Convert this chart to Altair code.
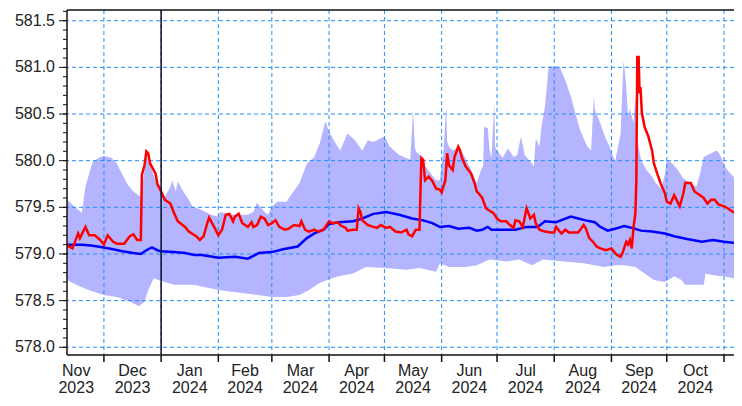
import altair as alt
import pandas as pd

# ---------------- data ----------------
red_dates = [
    "2023-11-11", "2023-11-12", "2023-11-14", "2023-11-17", "2023-11-18", "2023-11-21", "2023-11-23",
    "2023-11-26", "2023-11-29", "2023-12-01", "2023-12-03", "2023-12-06", "2023-12-08", "2023-12-12",
    "2023-12-15", "2023-12-17", "2023-12-19", "2023-12-21", "2023-12-21T14:00", "2023-12-23",
    "2023-12-24", "2023-12-25", "2023-12-26", "2023-12-29", "2023-12-30", "2024-01-01", "2024-01-03",
    "2024-01-06", "2024-01-08", "2024-01-10", "2024-01-14", "2024-01-16", "2024-01-20", "2024-01-22",
    "2024-01-24", "2024-01-26", "2024-01-27", "2024-01-30", "2024-02-01", "2024-02-03", "2024-02-05",
    "2024-02-07", "2024-02-09", "2024-02-10", "2024-02-12", "2024-02-14", "2024-02-17", "2024-02-19",
    "2024-02-20", "2024-02-22", "2024-02-24", "2024-02-26", "2024-02-28", "2024-03-01", "2024-03-03",
    "2024-03-05", "2024-03-08", "2024-03-10", "2024-03-13", "2024-03-16", "2024-03-17", "2024-03-19",
    "2024-03-21", "2024-03-24", "2024-03-26", "2024-03-29", "2024-04-01", "2024-04-03", "2024-04-06",
    "2024-04-07", "2024-04-10", "2024-04-11", "2024-04-14", "2024-04-16", "2024-04-17", "2024-04-18",
    "2024-04-19", "2024-04-22", "2024-04-25", "2024-04-27", "2024-04-29", "2024-05-02", "2024-05-04",
    "2024-05-07", "2024-05-10", "2024-05-13", "2024-05-14", "2024-05-16", "2024-05-18", "2024-05-20",
    "2024-05-21", "2024-05-22", "2024-05-23", "2024-05-25", "2024-05-27", "2024-05-29", "2024-05-31",
    "2024-06-01", "2024-06-03", "2024-06-04", "2024-06-05", "2024-06-07", "2024-06-08", "2024-06-10",
    "2024-06-11", "2024-06-12", "2024-06-14", "2024-06-17", "2024-06-19", "2024-06-20", "2024-06-21",
    "2024-06-23", "2024-06-25", "2024-06-28", "2024-06-29", "2024-07-01", "2024-07-03", "2024-07-06",
    "2024-07-08", "2024-07-10", "2024-07-11", "2024-07-13", "2024-07-15", "2024-07-17", "2024-07-18",
    "2024-07-19", "2024-07-21", "2024-07-22", "2024-07-24", "2024-07-27", "2024-07-30", "2024-08-01",
    "2024-08-02", "2024-08-04", "2024-08-05", "2024-08-07", "2024-08-09", "2024-08-12", "2024-08-14",
    "2024-08-17", "2024-08-18", "2024-08-20", "2024-08-22", "2024-08-24", "2024-08-26", "2024-08-29",
    "2024-09-01", "2024-09-03", "2024-09-04", "2024-09-06", "2024-09-07", "2024-09-09", "2024-09-10",
    "2024-09-11", "2024-09-12", "2024-09-13", "2024-09-14", "2024-09-14T12:00", "2024-09-15",
    "2024-09-15T18:00", "2024-09-16T06:00", "2024-09-16T18:00", "2024-09-17T12:00", "2024-09-19",
    "2024-09-21", "2024-09-23", "2024-09-24", "2024-09-26", "2024-09-28", "2024-09-30", "2024-10-01",
    "2024-10-03", "2024-10-05", "2024-10-06", "2024-10-08", "2024-10-10", "2024-10-11", "2024-10-14",
    "2024-10-16", "2024-10-19", "2024-10-21", "2024-10-23", "2024-10-25", "2024-10-27", "2024-10-29",
    "2024-11-01", "2024-11-03", "2024-11-06", "2024-11-08", "2024-11-10T18:00",
]
red_vals = [
    579.11, 579.08, 579.06, 579.22, 579.17, 579.29, 579.20,
    579.20, 579.15, 579.10, 579.20, 579.13, 579.11, 579.11,
    579.19, 579.21, 579.15, 579.15, 579.85, 579.95,
    580.10, 580.08, 579.97, 579.86, 579.75, 579.67, 579.58,
    579.54, 579.44, 579.35, 579.29, 579.24, 579.19, 579.15,
    579.19, 579.33, 579.39, 579.28, 579.20, 579.26, 579.42,
    579.43, 579.35, 579.40, 579.43, 579.33, 579.29, 579.34,
    579.29, 579.31, 579.40, 579.38, 579.31, 579.33, 579.36,
    579.29, 579.26, 579.27, 579.31, 579.30, 579.35, 579.26,
    579.24, 579.26, 579.24, 579.26, 579.35, 579.33, 579.34,
    579.31, 579.28, 579.25, 579.26, 579.26, 579.49, 579.45,
    579.36, 579.31, 579.29, 579.28, 579.31, 579.28, 579.29,
    579.24, 579.23, 579.26, 579.21, 579.19, 579.26, 579.26,
    580.03, 580.01, 579.79, 579.83, 579.78, 579.70, 579.69,
    579.66, 579.79, 580.08, 579.95, 579.90, 580.04, 580.15,
    580.11, 580.03, 579.94, 579.86, 579.75, 579.67, 579.65,
    579.60, 579.49, 579.45, 579.44, 579.38, 579.35, 579.35,
    579.31, 579.28, 579.36, 579.35, 579.29, 579.49, 579.44,
    579.38, 579.42, 579.33, 579.26, 579.24, 579.23, 579.23,
    579.29, 579.24, 579.22, 579.26, 579.23, 579.23, 579.23,
    579.31, 579.28, 579.17, 579.13, 579.08, 579.06, 579.04,
    579.06, 579.01, 578.99, 578.97, 579.01, 579.13, 579.10,
    579.15, 579.06, 579.29, 579.44, 579.79, 581.11,
    581.11, 580.72, 580.79, 580.51, 580.36,
    580.26, 580.11, 579.97, 579.85, 579.74, 579.65, 579.56,
    579.54, 579.63, 579.59, 579.51, 579.65, 579.76, 579.76,
    579.67, 579.63, 579.60, 579.54, 579.58, 579.58, 579.53,
    579.51, 579.49, 579.45, 579.44, 579.44,
]

blue_dates = [
    "2023-11-11", "2023-11-19", "2023-11-24", "2023-12-01", "2023-12-06", "2023-12-11", "2023-12-17",
    "2023-12-21", "2023-12-24", "2023-12-27", "2023-12-30", "2024-01-01", "2024-01-08", "2024-01-14",
    "2024-01-19", "2024-01-23", "2024-02-01", "2024-02-10", "2024-02-17", "2024-02-23", "2024-03-01",
    "2024-03-07", "2024-03-15", "2024-03-20", "2024-03-24", "2024-03-29", "2024-04-01", "2024-04-06",
    "2024-04-14", "2024-04-19", "2024-04-25", "2024-05-02", "2024-05-09", "2024-05-16", "2024-05-22",
    "2024-05-27", "2024-05-31", "2024-06-05", "2024-06-10", "2024-06-16", "2024-06-20", "2024-06-23",
    "2024-06-26", "2024-06-28", "2024-07-04", "2024-07-11", "2024-07-17", "2024-07-23", "2024-07-27",
    "2024-08-02", "2024-08-06", "2024-08-10", "2024-08-14", "2024-08-18", "2024-08-23", "2024-08-26",
    "2024-08-30", "2024-09-03", "2024-09-08", "2024-09-12", "2024-09-17", "2024-09-23", "2024-09-30",
    "2024-10-05", "2024-10-12", "2024-10-20", "2024-10-26", "2024-11-01", "2024-11-06", "2024-11-10T18:00",
]
blue_vals = [
    579.10, 579.10, 579.09, 579.07, 579.05, 579.03, 579.01,
    579.00, 579.04, 579.07, 579.04, 579.03, 579.02, 579.01,
    578.99, 578.99, 578.96, 578.97, 578.95, 579.01, 579.02,
    579.05, 579.08, 579.17, 579.22, 579.26, 579.32, 579.34,
    579.35, 579.38, 579.43, 579.45, 579.42, 579.38, 579.36,
    579.33, 579.29, 579.30, 579.27, 579.28, 579.25, 579.26,
    579.29, 579.26, 579.26, 579.26, 579.29, 579.29, 579.35,
    579.34, 579.37, 579.40, 579.38, 579.36, 579.34, 579.29,
    579.25, 579.27, 579.30, 579.28, 579.25, 579.24, 579.22,
    579.19, 579.16, 579.13, 579.15, 579.13, 579.12, 579.11,
]

hi_dates = [
    "2023-11-11", "2023-11-15", "2023-11-19", "2023-11-21", "2023-11-23", "2023-11-25", "2023-11-29",
    "2023-12-01", "2023-12-05", "2023-12-08", "2023-12-11", "2023-12-14", "2023-12-17", "2023-12-21",
    "2023-12-23", "2023-12-24", "2023-12-26", "2023-12-29", "2024-01-01", "2024-01-03", "2024-01-06",
    "2024-01-07", "2024-01-09", "2024-01-10", "2024-01-13", "2024-01-16", "2024-01-18", "2024-01-23",
    "2024-01-28", "2024-02-01", "2024-02-02", "2024-02-08", "2024-02-17", "2024-02-20", "2024-02-22",
    "2024-02-26", "2024-02-28", "2024-03-01", "2024-03-04", "2024-03-09", "2024-03-12", "2024-03-16",
    "2024-03-20", "2024-03-24", "2024-03-27", "2024-03-30", "2024-04-01", "2024-04-05", "2024-04-07",
    "2024-04-11", "2024-04-15", "2024-04-19", "2024-04-22", "2024-04-25", "2024-05-01", "2024-05-04",
    "2024-05-09", "2024-05-15", "2024-05-16T12:00", "2024-05-17T12:00", "2024-05-18", "2024-05-21",
    "2024-05-23", "2024-05-29", "2024-05-31", "2024-06-02", "2024-06-03T12:00", "2024-06-04",
    "2024-06-05", "2024-06-07", "2024-06-10", "2024-06-13", "2024-06-17", "2024-06-20", "2024-06-22",
    "2024-06-23T12:00", "2024-06-24", "2024-06-26", "2024-06-27", "2024-06-28", "2024-06-29T12:00",
    "2024-06-30", "2024-07-01", "2024-07-04", "2024-07-07", "2024-07-10", "2024-07-12", "2024-07-14",
    "2024-07-16", "2024-07-19", "2024-07-21", "2024-07-22", "2024-07-24", "2024-07-25", "2024-07-27",
    "2024-07-29", "2024-08-01", "2024-08-04", "2024-08-07", "2024-08-10", "2024-08-13", "2024-08-15",
    "2024-08-19", "2024-08-21", "2024-08-22T12:00", "2024-08-23", "2024-08-26", "2024-08-28",
    "2024-08-31", "2024-09-03", "2024-09-06", "2024-09-07T12:00", "2024-09-08", "2024-09-09",
    "2024-09-10", "2024-09-11", "2024-09-13", "2024-09-14", "2024-09-15", "2024-09-17", "2024-09-20",
    "2024-09-23", "2024-09-25", "2024-09-28", "2024-09-30", "2024-10-01", "2024-10-04", "2024-10-07",
    "2024-10-10", "2024-10-14", "2024-10-17", "2024-10-19", "2024-10-21", "2024-10-25", "2024-10-28",
    "2024-10-30", "2024-11-02", "2024-11-06", "2024-11-10T18:00",
]
hi_vals = [
    579.58, 579.51, 579.44, 579.72, 579.86, 579.99, 580.04,
    580.05, 580.03, 579.97, 579.85, 579.74, 579.67, 579.61,
    579.90, 580.05, 579.95, 579.79, 579.65, 579.61, 579.72,
    579.79, 579.67, 579.78, 579.67, 579.58, 579.51, 579.47,
    579.42, 579.40, 579.45, 579.42, 579.42, 579.45, 579.55,
    579.45, 579.42, 579.51, 579.56, 579.56, 579.65, 579.76,
    579.97, 580.04, 580.19, 580.42, 580.31, 580.17, 580.11,
    580.29, 580.22, 580.11, 580.22, 580.20, 580.26, 580.15,
    580.06, 580.01, 580.54, 580.15, 580.10, 580.04,
    579.94, 579.79, 579.79, 580.11, 580.58, 580.20,
    580.15, 580.11, 580.15, 580.06, 579.90, 579.76, 579.88,
    579.95, 580.36, 580.35, 580.11, 580.03, 580.61,
    580.15, 580.11, 580.03, 580.13, 580.04, 580.06, 580.26,
    580.06, 579.99, 579.94, 580.24, 580.15, 580.35, 580.58,
    581.01, 581.01, 581.01, 580.86, 580.69, 580.47, 580.33,
    580.15, 580.11, 580.70, 580.55, 580.40, 580.28,
    580.15, 579.99, 580.29, 581.06, 581.01, 580.80,
    580.47, 580.56, 580.40, 580.69, 580.22, 580.01, 579.90,
    579.83, 579.76, 579.70, 579.86, 580.01, 579.97, 579.90,
    579.81, 579.76, 579.72, 579.86, 580.04, 580.08, 580.11,
    580.06, 579.92, 579.83, 579.74,
]

lo_dates = [
    "2023-11-11", "2023-11-16", "2023-11-23", "2023-12-01", "2023-12-08", "2023-12-15", "2023-12-20",
    "2023-12-23", "2023-12-25", "2023-12-28", "2024-01-01", "2024-01-08", "2024-01-19", "2024-01-23",
    "2024-02-02", "2024-02-15", "2024-03-01", "2024-03-09", "2024-03-16", "2024-03-21", "2024-03-26",
    "2024-04-01", "2024-04-06", "2024-04-14", "2024-04-21", "2024-05-01", "2024-05-13", "2024-05-20",
    "2024-05-29", "2024-05-31", "2024-06-05", "2024-06-14", "2024-06-20", "2024-06-27", "2024-07-06",
    "2024-07-13", "2024-07-20", "2024-07-26", "2024-08-06", "2024-08-17", "2024-08-28", "2024-09-03",
    "2024-09-08", "2024-09-14", "2024-09-19", "2024-09-24", "2024-09-30", "2024-10-05", "2024-10-09",
    "2024-10-11", "2024-10-21", "2024-10-22", "2024-10-27", "2024-11-01", "2024-11-06", "2024-11-10T18:00",
]
lo_vals = [
    578.72, 578.67, 578.61, 578.56, 578.54, 578.49, 578.44,
    578.49, 578.61, 578.74, 578.71, 578.67, 578.67, 578.65,
    578.61, 578.58, 578.54, 578.54, 578.56, 578.61, 578.68,
    578.73, 578.76, 578.79, 578.86, 578.85, 578.83, 578.85,
    578.81, 578.90, 578.86, 578.86, 578.88, 578.94, 578.92,
    578.94, 578.88, 578.94, 578.92, 578.90, 578.86, 578.88,
    578.88, 578.86, 578.79, 578.72, 578.70, 578.76, 578.72,
    578.67, 578.67, 578.79, 578.77, 578.76, 578.74, 578.74,
]

month_starts = ["2023-12-01", "2024-01-01", "2024-02-01", "2024-03-01", "2024-04-01", "2024-05-01",
                "2024-06-01", "2024-07-01", "2024-08-01", "2024-09-01", "2024-10-01", "2024-11-01"]
# month label bounds (label sits in the middle of its month)
label_bounds = ["2023-11-01"] + month_starts + ["2024-12-01"]
month_names = ["Nov", "Dec", "Jan", "Feb", "Mar", "Apr", "May", "Jun", "Jul", "Aug", "Sep", "Oct", "Nov"]
year_names = ["2023", "2023", "2024", "2024", "2024", "2024", "2024", "2024", "2024", "2024", "2024",
              "2024", "2024"]
year_marker = ["2024-01-01"]
y_major = [578.0, 578.5, 579.0, 579.5, 580.0, 580.5, 581.0, 581.5]
y_labels = ["578.0", "578.5", "579.0", "579.5", "580.0", "580.5", "581.0", "581.5"]
y_minor = [round(578.0 + 0.1 * i, 1) for i in range(37)]


def ms(s):
    return int(pd.Timestamp(s, tz="UTC").value // 10**6)


def frame(dates, vals):
    return pd.DataFrame({"t": [ms(d) for d in dates], "v": vals})


W, H = 667, 345
x_scale = alt.Scale(type="utc", domain=[ms("2023-11-11"), ms("2024-11-06T10:00")])
y_scale = alt.Scale(domain=[577.917, 581.615], nice=False, zero=False)

X = lambda: alt.X("t:T", scale=x_scale, axis=None)
Y = lambda: alt.Y("v:Q", scale=y_scale, axis=None)

grid_color = "#1e8fff"
ink = "#111111"
font = "Liberation Sans"

hi_area = alt.Chart(frame(hi_dates, hi_vals)).mark_area(color="#b4b4ff", clip=True).encode(
    x=X(), y=Y(), y2=alt.value(H))
lo_area = alt.Chart(frame(lo_dates, lo_vals)).mark_area(color="white", clip=True).encode(
    x=X(), y=Y(), y2=alt.value(H))
vgrid = alt.Chart(frame(month_starts, [0] * len(month_starts))).mark_rule(
    color=grid_color, strokeDash=[4, 3], strokeWidth=1).encode(x=X())
hgrid = alt.Chart(pd.DataFrame({"v": y_major})).mark_rule(
    color=grid_color, strokeDash=[4, 3], strokeWidth=1).encode(y=Y())
blue_line = alt.Chart(frame(blue_dates, blue_vals)).mark_line(
    color="#0000ff", strokeWidth=2.5, clip=True).encode(x=X(), y=Y())
red_line = alt.Chart(frame(red_dates, red_vals)).mark_line(
    color="#ff0000", strokeWidth=2.5, clip=True).encode(x=X(), y=Y())
year_rule = alt.Chart(frame(year_marker, [0])).mark_rule(color="#101028", strokeWidth=1.5).encode(x=X())

# frame
top_border = alt.Chart(pd.DataFrame({"a": [0]})).mark_rule(color=ink, strokeWidth=1.5).encode(
    y=alt.value(0), x=alt.value(0), x2=alt.value(W))
bottom_border = alt.Chart(pd.DataFrame({"a": [0]})).mark_rule(color=ink, strokeWidth=1.5).encode(
    y=alt.value(H), x=alt.value(0), x2=alt.value(W))
left_border = alt.Chart(pd.DataFrame({"a": [0]})).mark_rule(color=ink, strokeWidth=1.5).encode(
    x=alt.value(0), y=alt.value(0), y2=alt.value(H))

# ticks
x_ticks = alt.Chart(frame(month_starts, [0] * len(month_starts))).mark_rule(color=ink, strokeWidth=1.5).encode(
    x=X(), y=alt.value(H), y2=alt.value(H + 7))
y_minor_ticks = alt.Chart(pd.DataFrame({"v": y_minor})).mark_rule(color=ink, strokeWidth=1).encode(
    y=Y(), x=alt.value(-4), x2=alt.value(0))
y_major_ticks = alt.Chart(pd.DataFrame({"v": y_major})).mark_rule(color=ink, strokeWidth=1).encode(
    y=Y(), x=alt.value(-8), x2=alt.value(0))

# tick labels
y_text = alt.Chart(pd.DataFrame({"v": y_major, "label": y_labels})).mark_text(
    align="right", baseline="middle", font=font, fontSize=16, color="#222").encode(
    y=Y(), x=alt.value(-12), text="label:N")

mids = [(ms(a) + ms(b)) // 2 for a, b in zip(label_bounds[:-1], label_bounds[1:])]
lab_df = pd.DataFrame({"t": mids, "m": month_names, "y": year_names})
lab_df = lab_df[(lab_df["t"] >= ms("2023-11-11")) & (lab_df["t"] <= ms("2024-11-06T10:00"))]
month_text = alt.Chart(lab_df).mark_text(
    align="center", baseline="alphabetic", font=font, fontSize=16, color="#222").encode(
    x=X(), y=alt.value(H + 21), text="m:N")
year_text = alt.Chart(lab_df).mark_text(
    align="center", baseline="alphabetic", font=font, fontSize=16, color="#222").encode(
    x=X(), y=alt.value(H + 38), text="y:N")

chart = alt.layer(
    hi_area, lo_area, vgrid, hgrid, blue_line, red_line, year_rule,
    top_border, bottom_border, left_border, x_ticks, y_minor_ticks, y_major_ticks,
    y_text, month_text, year_text,
).properties(
    width=W, height=H,
    autosize=alt.AutoSizeParams(type="none"),
    padding={"left": 59, "top": 2, "right": 0, "bottom": 43},
).configure_view(stroke=None)

chart.save("out.html", embed_options={"renderer": "svg", "actions": False})
